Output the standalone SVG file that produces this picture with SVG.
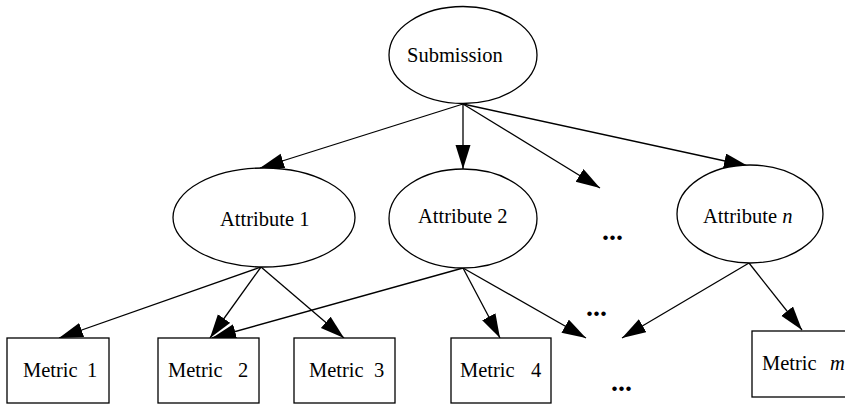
<svg xmlns="http://www.w3.org/2000/svg" width="845" height="404" viewBox="0 0 845 404">
  <style>
    .shape { fill: #fff; stroke: #000; stroke-width: 1.3; }
    .edge { fill: none; stroke: #000; stroke-width: 1.3; }
    .label { font-family: "Liberation Serif", "Times New Roman", serif; font-size: 20.5px; fill: #000; }
    .dots { font-family: "Liberation Serif", "Times New Roman", serif; font-size: 28px; font-weight: bold; fill: #000; }
  </style>
  <defs>
    <marker id="arrow" markerUnits="userSpaceOnUse" markerWidth="26" markerHeight="18" refX="24" refY="7.5" orient="auto">
      <path d="M0,0 L24,7.5 L0,15 Z" fill="#000"/>
    </marker>
  </defs>
  <rect width="845" height="404" fill="#fff"/>

  <g id="connectors">
    <line class="edge" x1="463" y1="104" x2="260" y2="168" marker-end="url(#arrow)"/>
    <line class="edge" x1="463" y1="104" x2="463" y2="169" marker-end="url(#arrow)"/>
    <line class="edge" x1="463" y1="104" x2="600" y2="188" marker-end="url(#arrow)"/>
    <line class="edge" x1="463" y1="104" x2="748" y2="166" marker-end="url(#arrow)"/>
    <line class="edge" x1="261" y1="267" x2="59" y2="338" marker-end="url(#arrow)"/>
    <line class="edge" x1="261" y1="267" x2="210" y2="338" marker-end="url(#arrow)"/>
    <line class="edge" x1="261" y1="267" x2="344" y2="338" marker-end="url(#arrow)"/>
    <line class="edge" x1="463" y1="268" x2="212" y2="338" marker-end="url(#arrow)"/>
    <line class="edge" x1="463" y1="268" x2="500" y2="338" marker-end="url(#arrow)"/>
    <line class="edge" x1="463" y1="268" x2="586" y2="338" marker-end="url(#arrow)"/>
    <line class="edge" x1="749" y1="263" x2="622" y2="338" marker-end="url(#arrow)"/>
    <line class="edge" x1="749" y1="263" x2="802" y2="330" marker-end="url(#arrow)"/>
  </g>

  <g id="submission">
    <ellipse class="shape" cx="463" cy="55" rx="74" ry="48.5"/>
    <text class="label" x="407" y="62">Submission</text>
  </g>

  <g id="attribute-1">
    <ellipse class="shape" cx="264" cy="217.5" rx="91" ry="49.5"/>
    <text class="label" x="220" y="226">Attribute 1</text>
  </g>

  <g id="attribute-2">
    <ellipse class="shape" cx="463" cy="218.5" rx="74" ry="49.5"/>
    <text class="label" x="418" y="223">Attribute 2</text>
  </g>

  <g id="attribute-n">
    <ellipse class="shape" cx="750" cy="214" rx="73" ry="49"/>
    <text class="label" x="703" y="223">Attribute <tspan font-style="italic">n</tspan></text>
  </g>

  <g id="metric-1">
    <rect class="shape" x="7" y="338" width="102" height="65"/>
    <text class="label" y="377"><tspan x="23">Metric</tspan><tspan x="87">1</tspan></text>
  </g>

  <g id="metric-2">
    <rect class="shape" x="158" y="338" width="101" height="65"/>
    <text class="label" y="377"><tspan x="168">Metric</tspan><tspan x="238">2</tspan></text>
  </g>

  <g id="metric-3">
    <rect class="shape" x="294" y="338" width="101" height="65"/>
    <text class="label" y="377"><tspan x="309">Metric</tspan><tspan x="374">3</tspan></text>
  </g>

  <g id="metric-4">
    <rect class="shape" x="451" y="338" width="100" height="65"/>
    <text class="label" y="377"><tspan x="460">Metric</tspan><tspan x="531">4</tspan></text>
  </g>

  <g id="metric-m">
    <rect class="shape" x="752" y="331" width="100" height="66"/>
    <text class="label" y="370"><tspan x="762">Metric</tspan><tspan x="830" font-style="italic">m</tspan></text>
  </g>

  <g id="ellipsis">
    <text class="dots" x="602" y="240">...</text>
    <text class="dots" x="586" y="316">...</text>
    <text class="dots" x="611" y="391">...</text>
  </g>
</svg>
